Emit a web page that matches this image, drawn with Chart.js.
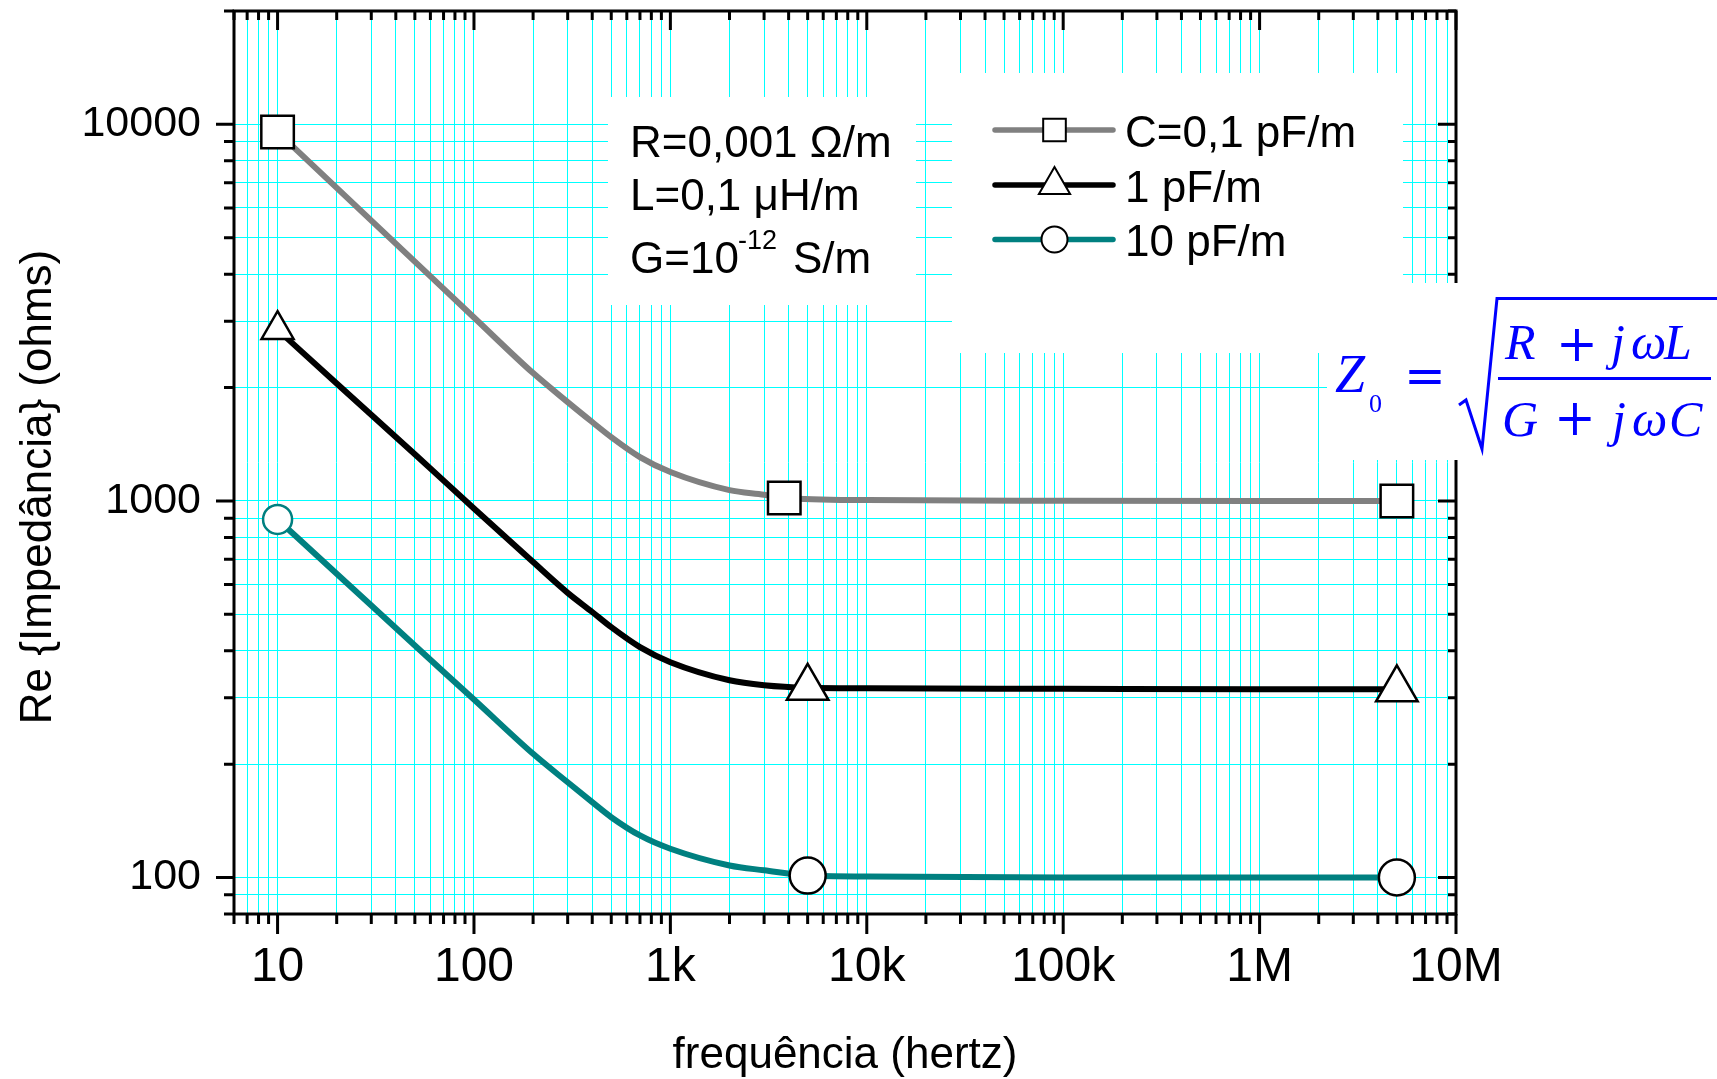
<!DOCTYPE html>
<html>
<head>
<meta charset="utf-8">
<title>Re {Impedância} x frequência</title>
<script src="https://cdn.jsdelivr.net/npm/chart.js@4.4.1/dist/chart.umd.min.js"></script>
<style>
  html, body { margin: 0; padding: 0; background: #ffffff; }
  #wrap { width: 1717px; height: 1079px; }
</style>
</head>
<body>
<div id="wrap"><canvas id="myChart" width="1717" height="1079"></canvas></div>
<script>
var SANS = '"Liberation Sans", Arial, Helvetica, sans-serif';
var SERIF = '"Liberation Serif", "DejaVu Serif", "Times New Roman", serif';
var SERIF_MATH = '"DejaVu Serif", "Liberation Serif", serif';

// Parte real de Z0 (ohms) em função da frequência (Hz), uma linha por capacitância
var freqC01 = [10, 20, 50, 100, 200, 300, 400, 500, 700, 1000, 2000, 3000, 3800, 10000, 100000, 1000000, 5000000];
var reC01 = [9540, 6780, 4320, 3070, 2185, 1830, 1620, 1477, 1307, 1193, 1068, 1038, 1018, 1005, 1001, 1000, 1000];
var marcasC01 = [10, 3800, 5000000];

var freqC1 = [10, 20, 50, 100, 200, 300, 400, 500, 700, 1000, 2000, 3000, 5000, 10000, 100000, 1000000, 5000000];
var reC1 = [2850, 2050, 1330, 955, 688, 570, 507, 462, 409, 373, 334, 324, 319, 318, 317, 316, 316];
var marcasC1 = [10, 5000, 5000000];

var freqC10 = [10, 20, 50, 100, 200, 300, 400, 500, 700, 1000, 2000, 3000, 5000, 10000, 100000, 1000000, 5000000];
var reC10 = [893, 641, 413, 297, 213, 179, 158.5, 144.6, 129.3, 119.2, 107.6, 104.5, 101.2, 100.6, 100, 100, 100];
var marcasC10 = [10, 5000, 5000000];

var rotulos = ['C=0,1 pF/m', '1 pF/m', '10 pF/m'];

// Eixos
var xMajor = [10, 100, 1000, 10000, 100000, 1000000, 10000000];
var xMajorLabels = ['10', '100', '1k', '10k', '100k', '1M', '10M'];
var yMajor = [100, 1000, 10000];
var yMajorLabels = ['100', '1000', '10000'];

var series = [
  { freq: freqC01, re: reC01, marcas: marcasC01 },
  { freq: freqC1, re: reC1, marcas: marcasC1 },
  { freq: freqC10, re: reC10, marcas: marcasC10 }
];

var estilos = [
  { cor: '#808080', ponto: 'rect', r: 23, r0: 23, borda0: '#000000', rLeg: 16 },
  { cor: '#000000', ponto: 'triangle', r: 24, r0: 18.5, borda0: '#000000', rLeg: 18 },
  { cor: '#008080', ponto: 'circle', r: 18, r0: 14.5, borda0: '#008080', rLeg: 13 }
];

// ticks de 1 a 9 em cada década dentro do intervalo
function ticksLog(min, max) {
  var out = [];
  for (var e = Math.floor(Math.log10(min)); e <= Math.ceil(Math.log10(max)); e++) {
    for (var k = 1; k <= 9; k++) {
      var v = k * Math.pow(10, e);
      if (v >= min && v <= max) out.push({ value: v });
    }
  }
  return out;
}

var datasets = series.map(function (s, n) {
  var e = estilos[n];
  return {
    label: rotulos[n],
    data: s.freq.map(function (f, i) { return { x: f, y: s.re[i] }; }),
    borderColor: e.cor,
    borderWidth: 6,
    cubicInterpolationMode: 'monotone',
    borderJoinStyle: 'round',
    borderCapStyle: 'round',
    pointStyle: e.ponto,
    pointBackgroundColor: '#ffffff',
    pointBorderWidth: 2.5,
    pointRadius: function (c) {
      if (!c.raw) return 0;
      var k = s.marcas.indexOf(c.raw.x);
      return k < 0 ? 0 : (k === 0 ? e.r0 : e.r);
    },
    pointBorderColor: function (c) {
      if (!c.raw) return '#000000';
      return s.marcas.indexOf(c.raw.x) === 0 ? e.borda0 : '#000000';
    }
  };
});

function desenhaPonto(ctx, estilo, raio, x, y) {
  if (Chart.helpers && Chart.helpers.drawPoint) {
    Chart.helpers.drawPoint(ctx, { pointStyle: estilo, radius: raio, borderWidth: ctx.lineWidth, rotation: 0 }, x, y);
    return;
  }
  ctx.beginPath();
  if (estilo === 'rect') {
    var h = raio * Math.SQRT1_2;
    ctx.rect(x - h, y - h, 2 * h, 2 * h);
  } else if (estilo === 'triangle') {
    ctx.moveTo(x, y - raio);
    ctx.lineTo(x + raio * Math.sqrt(3) / 2, y + raio / 2);
    ctx.lineTo(x - raio * Math.sqrt(3) / 2, y + raio / 2);
    ctx.closePath();
  } else {
    ctx.arc(x, y, raio, 0, Math.PI * 2);
  }
  ctx.fill();
  ctx.stroke();
}

var moldura = {
  id: 'moldura',
  // fundos brancos das caixas de texto por cima da grade
  beforeDatasetsDraw: function (chart) {
    var ctx = chart.ctx;
    ctx.save();
    ctx.fillStyle = '#ffffff';
    ctx.fillRect(608, 97, 308, 208);
    ctx.fillRect(952, 73, 451, 280);
    ctx.restore();
  },
  afterDatasetsDraw: function (chart) {
    var ctx = chart.ctx;
    var a = chart.chartArea;
    var sx = chart.scales.x, sy = chart.scales.y;
    ctx.save();

    // marcas dos eixos: fora embaixo/esquerda, dentro em cima/direita
    ctx.strokeStyle = '#000000';
    ctx.lineWidth = 3;
    ctx.lineCap = 'butt';
    ctx.beginPath();
    sx.ticks.forEach(function (t) {
      var px = sx.getPixelForValue(t.value);
      var maior = xMajor.indexOf(t.value) >= 0;
      ctx.moveTo(px, a.bottom);
      ctx.lineTo(px, a.bottom + (maior ? 20 : 10));
      ctx.moveTo(px, a.top);
      ctx.lineTo(px, a.top + (maior ? 19 : 9));
    });
    sy.ticks.forEach(function (t) {
      var py = sy.getPixelForValue(t.value);
      var maior = yMajor.indexOf(t.value) >= 0;
      ctx.moveTo(a.left, py);
      ctx.lineTo(a.left - (maior ? 18 : 10), py);
      ctx.moveTo(a.right, py);
      ctx.lineTo(a.right - (maior ? 18 : 8), py);
    });
    ctx.stroke();
    ctx.lineJoin = 'miter';
    ctx.strokeRect(a.left, a.top, a.right - a.left, a.bottom - a.top);

    // título do eixo y
    ctx.fillStyle = '#000000';
    ctx.font = '44px ' + SANS;
    ctx.textAlign = 'center';
    ctx.textBaseline = 'alphabetic';
    ctx.translate(51, 487);
    ctx.rotate(-Math.PI / 2);
    ctx.fillText('Re {Impedância} (ohms)', 0, 0);
    ctx.setTransform(1, 0, 0, 1, 0, 0);

    // parâmetros da linha
    ctx.textAlign = 'left';
    ctx.font = '44px ' + SANS;
    ctx.fillText('R=0,001 Ω/m', 630, 157);
    ctx.fillText('L=0,1 μH/m', 630, 210);
    ctx.fillText('G=10', 630, 273);
    ctx.font = '27px ' + SANS;
    ctx.fillText('-12', 738, 249);
    ctx.font = '44px ' + SANS;
    ctx.fillText('S/m', 793, 273);

    // legenda
    var linhas = [130, 185, 239.5];
    chart.data.datasets.forEach(function (ds, n) {
      var y = linhas[n];
      ctx.strokeStyle = ds.borderColor;
      ctx.lineWidth = 5.5;
      ctx.lineCap = 'round';
      ctx.beginPath();
      ctx.moveTo(995, y);
      ctx.lineTo(1113, y);
      ctx.stroke();
      ctx.lineCap = 'butt';
      ctx.fillStyle = '#ffffff';
      ctx.strokeStyle = '#000000';
      ctx.lineWidth = 2;
      desenhaPonto(ctx, estilos[n].ponto, estilos[n].rLeg, 1054.5, y);
      ctx.fillStyle = '#000000';
      ctx.font = '44px ' + SANS;
      ctx.fillText(ds.label, 1125, y + 16.5);
    });
    ctx.restore();
  },
  // fórmula da impedância característica
  afterDraw: function (chart) {
    var ctx = chart.ctx;
    ctx.save();
    ctx.fillStyle = '#ffffff';
    ctx.fillRect(1327, 283, 390, 177);

    var azul = '#0000ff';
    ctx.fillStyle = azul;
    ctx.strokeStyle = azul;
    ctx.textAlign = 'left';
    ctx.textBaseline = 'alphabetic';
    ctx.font = 'italic 54px ' + SERIF;
    ctx.fillText('Z', 1335, 392);
    ctx.font = '26px ' + SERIF;
    ctx.fillText('0', 1369, 412);

    ctx.textAlign = 'center';
    ctx.textBaseline = 'middle';
    ctx.font = '50px ' + SERIF_MATH;
    ctx.fillText('=', 1425, 380);
    ctx.fillText('+', 1577, 348);
    ctx.fillText('+', 1575, 422);

    ctx.textAlign = 'left';
    ctx.textBaseline = 'alphabetic';
    ctx.font = 'italic 50px ' + SERIF;
    ctx.fillText('R', 1505, 359);
    ctx.fillText('j', 1611, 359);
    ctx.fillText('ω', 1631, 359);
    ctx.fillText('L', 1664, 359);
    ctx.fillText('G', 1502, 436);
    ctx.fillText('j', 1612, 436);
    ctx.fillText('ω', 1632, 436);
    ctx.fillText('C', 1669, 436);

    // radical e traço da fração
    ctx.lineWidth = 3;
    ctx.lineJoin = 'miter';
    ctx.beginPath();
    ctx.moveTo(1459, 405);
    ctx.lineTo(1466, 400);
    ctx.lineTo(1482, 449);
    ctx.lineTo(1497, 298.5);
    ctx.lineTo(1717, 298.5);
    ctx.stroke();
    ctx.fillRect(1498, 377, 213, 3);
    ctx.restore();
  }
};

var ctx = document.getElementById('myChart').getContext('2d');
var myChart = new Chart(ctx, {
  type: 'line',
  data: { datasets: datasets },
  options: {
    responsive: false,
    animation: false,
    events: [],
    layout: { autoPadding: false, padding: { left: 0, right: 261, top: 11, bottom: 0 } },
    plugins: {
      legend: { display: false },
      tooltip: { enabled: false }
    },
    scales: {
      x: {
        type: 'logarithmic',
        position: 'bottom',
        min: 6,
        max: 10000000,
        afterBuildTicks: function (s) { s.ticks = ticksLog(6, 10000000); },
        afterFit: function (s) {
          s.height = 165;
          s.paddingLeft = 0;
          s.paddingRight = 0;
        },
        grid: { color: '#00ffff', lineWidth: 1, drawTicks: false },
        border: { display: false },
        ticks: {
          autoSkip: false,
          maxRotation: 0,
          padding: 25,
          color: '#000000',
          font: { family: SANS, size: 48 },
          callback: function (v) {
            var k = xMajor.indexOf(v);
            return k < 0 ? '' : xMajorLabels[k];
          }
        },
        title: {
          display: true,
          text: 'frequência (hertz)',
          color: '#000000',
          font: { family: SANS, size: 44, lineHeight: 1 },
          padding: { top: 0, bottom: 1 }
        }
      },
      y: {
        type: 'logarithmic',
        position: 'left',
        min: 80,
        max: 20000,
        afterBuildTicks: function (s) { s.ticks = ticksLog(80, 20000); },
        afterFit: function (s) {
          s.width = 234;
          s.paddingTop = 0;
          s.paddingBottom = 0;
        },
        grid: { color: '#00ffff', lineWidth: 1, drawTicks: false },
        border: { display: false },
        ticks: {
          autoSkip: false,
          padding: 33,
          color: '#000000',
          // altura de linha pequena para o rótulo do topo não empurrar a área do gráfico
          font: { family: SANS, size: 43, lineHeight: 0.4 },
          callback: function (v) {
            var k = yMajor.indexOf(v);
            return k < 0 ? '' : yMajorLabels[k];
          }
        }
      }
    }
  },
  plugins: [moldura]
});
</script>
</body>
</html>
